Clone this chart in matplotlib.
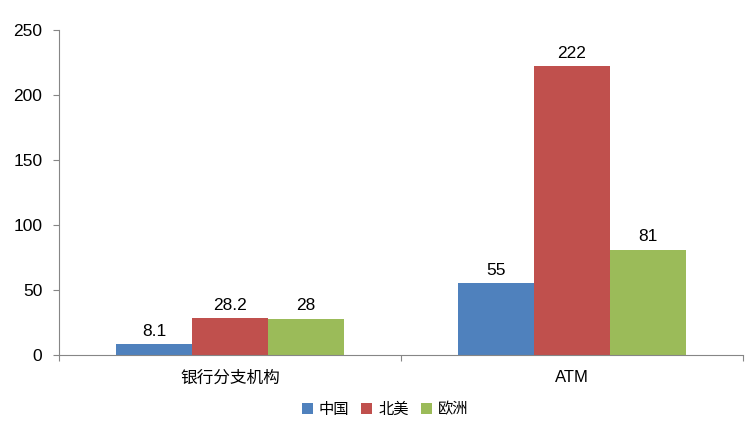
import numpy as np
import matplotlib
matplotlib.use('Agg')
import matplotlib.pyplot as plt

plt.rcParams['font.family'] = ['Liberation Sans', 'Noto Sans CJK SC', 'DejaVu Sans']

# data
categories = ['银行分支机构', 'ATM']
series_names = ['中国', '北美', '欧洲']
china = [8.1, 55]
north_america = [28.2, 222]
europe = [28, 81]
labels = [['8.1', '55'], ['28.2', '222'], ['28', '81']]
colors = ['#4F81BD', '#C0504D', '#9BBB59']

fig = plt.figure(figsize=(7.52, 4.21), dpi=100)
ax = fig.add_axes([0.0785, 0.1568, 0.9095, 0.7719])

x = np.arange(len(categories))
w = 0.222
for k, vals in enumerate([china, north_america, europe]):
    pos = x + (k - 1) * w
    ax.bar(pos, vals, width=w, color=colors[k], label=series_names[k])
    for p, v, s in zip(pos, vals, labels[k]):
        ax.text(p, v + 4, s, ha='center', va='bottom', fontsize=12.5)

ax.set_xlim(-0.5, 1.5)
ax.set_ylim(0, 250)
ax.set_yticks(range(0, 251, 50))
ax.tick_params(axis='y', labelsize=12.5, length=4, pad=8, color='#868686', direction='out')
ax.set_xticks([-0.5, 0.5, 1.5])
ax.set_xticklabels([])
ax.set_xticks(x, minor=True)
ax.set_xticklabels(categories, minor=True)
ax.tick_params(axis='x', which='major', length=4, color='#868686', direction='out')
ax.tick_params(axis='x', which='minor', length=0, pad=11, labelsize=12)

for sp in ['top', 'right']:
    ax.spines[sp].set_visible(False)
for sp in ['left', 'bottom']:
    ax.spines[sp].set_color('#868686')

leg = fig.legend(loc='lower center', bbox_to_anchor=(0.512, -0.025), ncol=3, frameon=False,
                 handlelength=0.7, handleheight=0.7, handletextpad=0.4, columnspacing=0.8,
                 prop={'family': ['Noto Sans CJK SC'], 'size': 11})

fig.savefig('out.png', dpi=100)
